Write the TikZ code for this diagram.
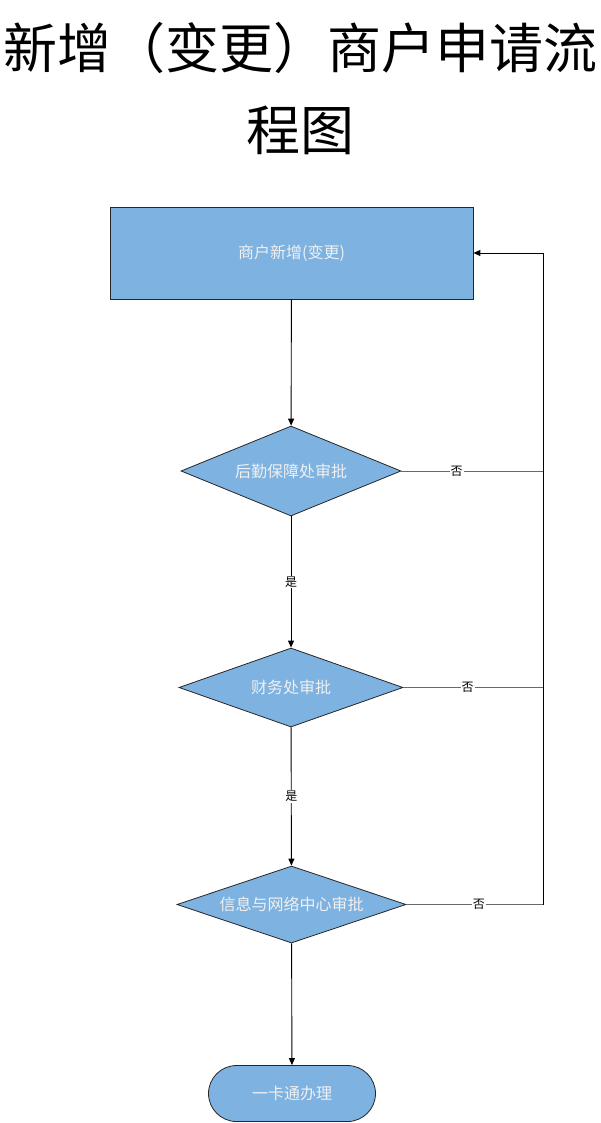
\documentclass[tikz,border=0pt]{standalone}
\usepackage{fontspec}
\setmainfont{Noto Sans CJK SC}
\usetikzlibrary{shapes.geometric,arrows.meta}
\definecolor{boxfill}{RGB}{126,178,224}
\definecolor{boxtext}{RGB}{240,240,240}
\definecolor{linegray}{RGB}{105,105,105}
\tikzset{
  base/.style={draw=black!85, line width=0.8pt, fill=boxfill, text=boxtext, font=\fontsize{16}{19}\selectfont, inner sep=0pt},
  procbox/.style={base, rectangle, minimum width=363pt, minimum height=92pt},
  decide/.style={base, diamond, aspect=2.6},
  termbox/.style={base, rectangle, rounded corners=28pt, minimum width=167pt, minimum height=56pt},
  flow/.style={line width=0.9pt, black, -{Triangle[length=7pt,width=6pt]}},
  back/.style={line width=0.9pt, linegray},
  lbl/.style={fill=white, inner sep=1pt, text=black, font=\fontsize{12}{14}\selectfont},
  ttl/.style={align=center, font=\fontsize{54}{82}\selectfont, inner sep=0pt}
}
\begin{document}
\begin{tikzpicture}[x=1pt,y=-1pt]
\useasboundingbox (0,0) rectangle (600,1123);
\node[ttl] (title) at (300,89) {新增（变更）商户申请流\\程图};
\node[procbox] (rect) at (291.5,253) {商户新增(变更)};
\node[decide, minimum width=220pt, minimum height=90pt] (d1) at (291,471) {后勤保障处审批};
\node[decide, minimum width=224pt, minimum height=79pt] (d2) at (291,687.5) {财务处审批};
\node[decide, minimum width=229pt, minimum height=77pt] (d3) at (291.5,904.5) {信息与网络中心审批};
\node[termbox] (term) at (292,1093.5) {一卡通办理};
\coordinate (j1) at (543,471);
\coordinate (j2) at (543,687.5);
\coordinate (j3) at (543,904.5);
\coordinate (jt) at (543,253);
\draw[flow] (rect) -- (d1);
\draw[flow] (d1) -- node[lbl]{是} (d2);
\draw[flow] (d2) -- node[lbl]{是} (d3);
\draw[flow] (d3) -- (term);
\draw[back] (d1.east) -- node[lbl,pos=0.39]{否} (j1);
\draw[back] (d2.east) -- node[lbl,pos=0.46]{否} (j2);
\draw[back] (d3.east) -- node[lbl,pos=0.53]{否} (j3);
\draw[flow] (j3) -- (jt) -- (rect.east);
\end{tikzpicture}
\end{document}
